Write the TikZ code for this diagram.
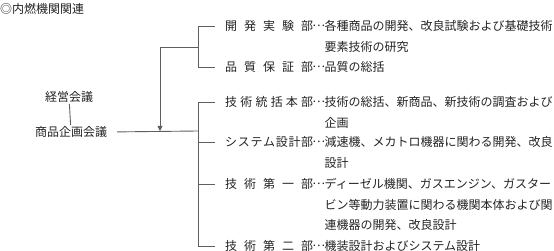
\documentclass[tikz,border=0pt]{standalone}
\usepackage{fontspec}
\setmainfont{Noto Sans CJK JP}
\usepackage{tikz}
\usetikzlibrary{arrows.meta, positioning}
\definecolor{ink}{RGB}{35,35,35}
\definecolor{wire}{RGB}{95,95,95}
\newcommand{\bumei}[1]{\makebox[88pt][s]{#1}\makebox[11pt]{\raisebox{0.32em}{…}}}

\begin{document}
\begin{tikzpicture}[
          x=1pt, y=-1pt,
          every node/.style={font=\fontsize{12}{20.5}\selectfont, text=ink, inner sep=0pt},
          mtg/.style={inner sep=1pt},
          dept/.style={anchor=west},
          desc/.style={anchor=base west, text width=232pt, align=left},
          ln/.style={wire, line width=0.9pt},
          br/.style={ln, shorten >=10pt},
          arr/.style={ln, -{Triangle[width=5pt, length=5pt]}},
        ]
          \useasboundingbox (0,0) rectangle (554,251);

          \node[anchor=west] (title) at (0,9) {◎内燃機関関連};
          \node[mtg] (keiei)  at (69,97)  {経営会議};
          \node[mtg] (shohin) at (71,132) {商品企画会議};

          \node[dept] (d1) at (225,26)  {\bumei{開\hfill 発\hfill 実\hfill 験\hfill 部}};
          \node[dept] (d2) at (225,67)  {\bumei{品\hfill 質\hfill 保\hfill 証\hfill 部}};
          \node[dept] (d3) at (225,102) {\bumei{技\hfill 術\hfill 統\hfill 括\hfill 本\hfill 部}};
          \node[dept] (d4) at (225,142) {\bumei{シ\hfill ス\hfill テ\hfill ム\hfill 設\hfill 計\hfill 部}};
          \node[dept] (d5) at (225,184) {\bumei{技\hfill 術\hfill 第\hfill 一\hfill 部}};
          \node[dept] (d6) at (225,246) {\bumei{技\hfill 術\hfill 第\hfill 二\hfill 部}};

          \node[desc] (t1) at (d1.base east) {各種商品の開発、改良試験および基礎技術\\要素技術の研究};
          \node[desc] (t2) at (d2.base east) {品質の総括};
          \node[desc] (t3) at (d3.base east) {技術の総括、新商品、新技術の調査および\\企画};
          \node[desc] (t4) at (d4.base east) {減速機、メカトロ機器に関わる開発、改良\\設計};
          \node[desc] (t5) at (d5.base east) {ディーゼル機関、ガスエンジン、ガスター\\ビン等動力装置に関わる機関本体および関\\連機器の開発、改良設計};
          \node[desc] (t6) at (d6.base east) {機装設計およびシステム設計};

          % bus lines
          \coordinate (ubus) at (198,47);
          \coordinate (lbus) at (198,131);
          \coordinate (drop) at (160,131);
          \draw[ln] (d1.west -| ubus) -- (d2.west -| ubus);
          \draw[ln] (d3.west -| lbus) -- (d6.west -| lbus);
          \foreach \d in {d1,d2,d3,d4,d5,d6}
            \draw[br] (\d.west -| ubus) -- (\d.west);

          \draw[ln] (keiei) -- (shohin);
          \draw[ln, shorten <=9pt] (shohin.east) -- (lbus);
          \draw[arr] (ubus) -| (drop);
        \end{tikzpicture}
\end{document}
